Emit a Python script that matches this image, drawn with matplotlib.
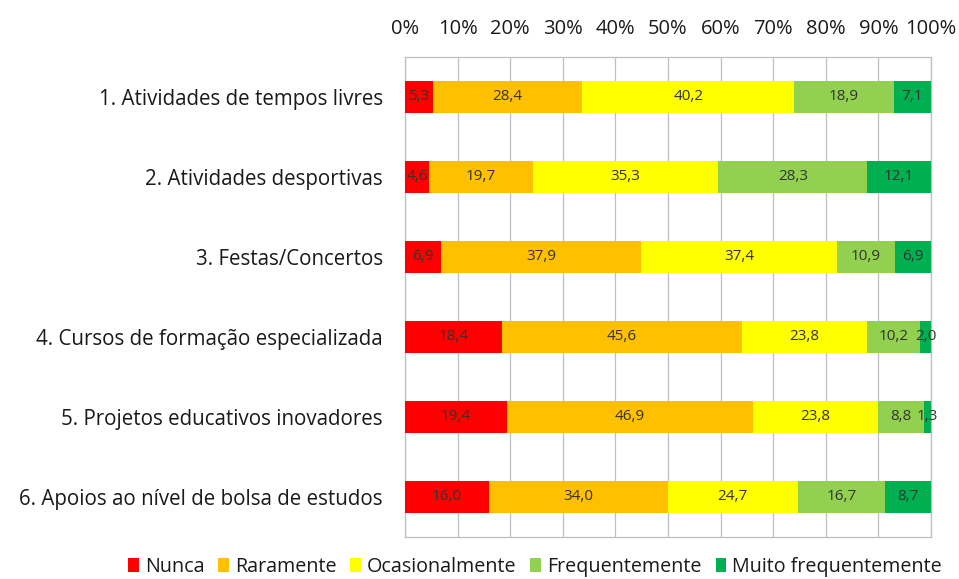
import matplotlib
matplotlib.use('Agg')
import matplotlib.pyplot as plt
import numpy as np

plt.rcParams['font.family'] = ['Open Sans', 'DejaVu Sans']

# categorias (de cima para baixo)
categorias = ['1. Atividades de tempos livres',
              '2. Atividades desportivas',
              '3. Festas/Concertos',
              '4. Cursos de formação especializada',
              '5. Projetos educativos inovadores',
              '6. Apoios ao nível de bolsa de estudos']
series = ['Nunca', 'Raramente', 'Ocasionalmente', 'Frequentemente',
          'Muito frequentemente']
cores = ['#FF0000', '#FFC000', '#FFFF00', '#92D050', '#00B050']

nunca = [5.3, 4.6, 6.9, 18.4, 19.4, 16.0]
raramente = [28.4, 19.7, 37.9, 45.6, 46.9, 34.0]
ocasionalmente = [40.2, 35.3, 37.4, 23.8, 23.8, 24.7]
frequentemente = [18.9, 28.3, 10.9, 10.2, 8.8, 16.7]
muito_freq = [7.1, 12.1, 6.9, 2.0, 1.3, 8.7]

valores = np.array([nunca, raramente, ocasionalmente, frequentemente,
                    muito_freq])
# 100% empilhado
perc = valores / valores.sum(axis=0) * 100

fig = plt.figure(figsize=(9.59, 5.79), dpi=100)
ax = fig.add_axes([405 / 959, 1 - 537 / 579, 526 / 959, 480 / 579])

y = np.arange(len(categorias))
esquerda = np.zeros(len(categorias))
for i in range(len(series)):
    ax.barh(y, perc[i], left=esquerda, height=0.4, color=cores[i],
            label=series[i], zorder=3)
    for j in range(len(categorias)):
        txt = ('%.1f' % valores[i, j]).replace('.', ',')
        ax.text(esquerda[j] + perc[i, j] / 2, y[j], txt, ha='center',
                va='center', fontsize=11, color='#333333', zorder=4)
    esquerda += perc[i]

ax.set_xlim(0, 100)
ax.set_ylim(len(categorias) - 0.5, -0.5)
ax.set_xticks(np.arange(0, 101, 10))
ax.set_xticklabels(['%d%%' % v for v in range(0, 101, 10)])
ax.xaxis.tick_top()
ax.tick_params(axis='x', length=0, labelsize=14.5, pad=13, colors='#1a1a1a')
ax.set_yticks(y)
ax.set_yticklabels(categorias)
ax.tick_params(axis='y', length=0, labelsize=14.8, pad=16, colors='#1a1a1a')
ax.grid(axis='x', color='#BFBFBF', linewidth=0.9, zorder=0)
for s in ax.spines.values():
    s.set_color('#BFBFBF')
    s.set_linewidth(0.9)

fig.legend(loc='center', bbox_to_anchor=(535 / 959, 1 - 567 / 579), ncol=5,
           frameon=False, fontsize=14.2, handlelength=0.55, handleheight=0.75,
           handletextpad=0.3, columnspacing=0.7, labelcolor='#1a1a1a')

fig.savefig('out.png', dpi=100)
